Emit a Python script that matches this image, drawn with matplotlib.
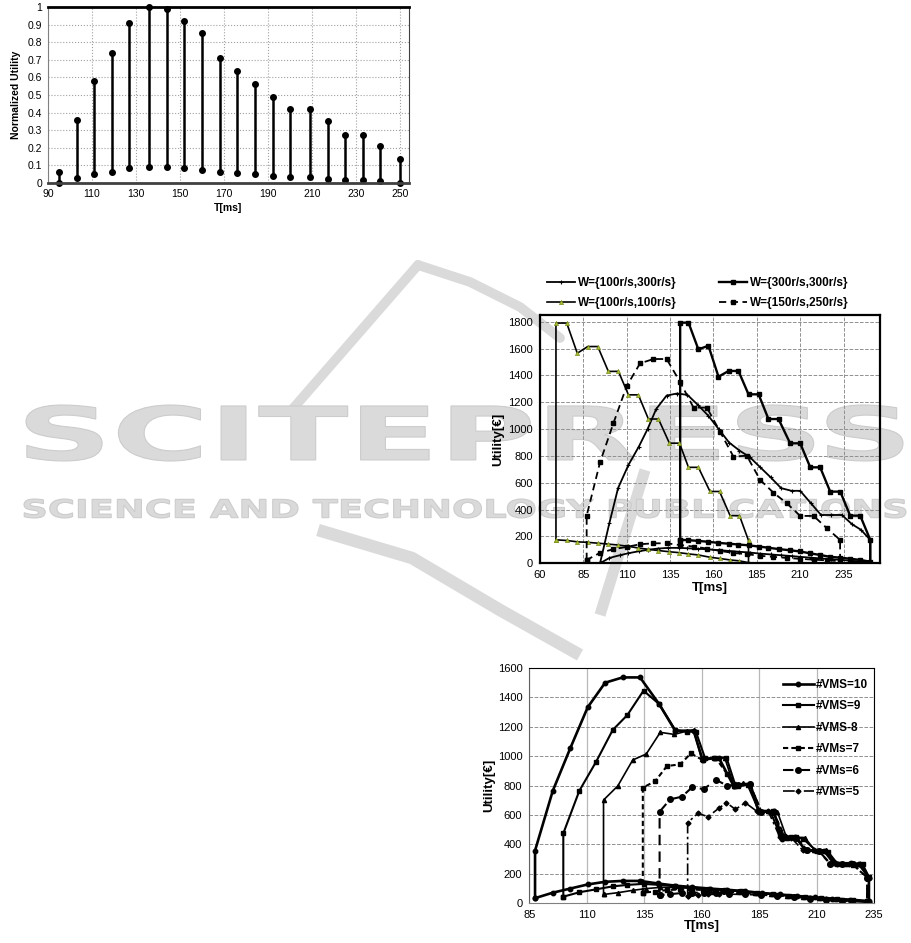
import numpy as np
import matplotlib.pyplot as plt
from matplotlib.textpath import TextPath
from matplotlib.font_manager import FontProperties
from matplotlib.patches import PathPatch
from matplotlib.transforms import Affine2D

plt.rcParams['font.family'] = ['Liberation Sans', 'DejaVu Sans']

# ---- top chart: normalized utility (range per T) ----
t_ms = [95, 103, 111, 119, 127, 136, 144, 152, 160, 168, 176, 184, 192, 200, 209, 217, 225, 233, 241, 250]
u_max = [0.06, 0.36, 0.58, 0.74, 0.91, 1.0, 0.99, 0.92, 0.85, 0.71, 0.635, 0.565, 0.49, 0.42, 0.42,
         0.35, 0.275, 0.275, 0.21, 0.135]
u_min = [0.0, 0.03, 0.05, 0.063, 0.084, 0.091, 0.091, 0.084, 0.076, 0.063, 0.055, 0.049, 0.04, 0.034,
         0.034, 0.025, 0.019, 0.019, 0.013, 0.0]

# ---- middle chart: workloads ----
w100_100_up_x = [69.2, 75.4, 81.5, 87.5, 93.3, 99.4, 105.2, 111, 116.7, 122.5, 128.3, 134.6, 140.4, 145.6,
                 151.3, 158, 163.5, 169.6, 175, 180.2]
w100_100_up_y = [1790, 1790, 1565, 1615, 1615, 1430, 1430, 1255, 1255, 1075, 1075, 895, 895, 715, 715,
                 535, 535, 355, 355, 170]
w100_100_lo_x = w100_100_up_x
w100_100_lo_y = [175, 170, 160, 156, 150, 143, 136, 126, 114, 104, 95, 86, 79, 70, 62, 45, 36, 25, 18, 5]

w300_300_up_x = [140.8, 145.6, 151.3, 157.1, 162.9, 168.7, 174.4, 180.2, 186, 191.7, 197.5, 204.2, 210,
                 215.8, 221.5, 227.3, 233.1, 238.8, 244.6, 250.4]
w300_300_up_y = [1793, 1793, 1594, 1621, 1390, 1433, 1433, 1259, 1259, 1075, 1075, 894, 894, 715, 715,
                 534, 534, 355, 355, 174]
w300_300_lo_x = w300_300_up_x
w300_300_lo_y = [175, 172, 167, 160, 152, 146, 140, 134, 125, 116, 106, 97, 88, 74, 62, 48, 42, 34, 25, 12]

w100_300_up_x = [94.6, 100, 105, 111, 117, 122, 127, 133, 139, 145, 151, 157, 163, 169, 175, 181, 187, 193,
                 199, 205, 210, 216, 222, 228, 234, 240, 245, 250.4]
w100_300_up_y = [0, 300, 560, 733, 870, 1000, 1150, 1250, 1265, 1255, 1180, 1100, 1000, 900, 840, 790,
                 715, 640, 560, 540, 540, 450, 360, 360, 360, 290, 250, 174]
w100_300_lo_x = [94.6, 100, 106, 111, 117, 122, 128, 134, 140, 145, 151, 157, 163, 169, 175, 181, 187,
                 193, 199, 205, 210, 216, 222, 228, 234, 240, 245, 250.4]
w100_300_lo_y = [0, 40, 60, 75, 90, 100, 110, 115, 115, 112, 108, 104, 98, 92, 86, 80, 72, 66, 60, 54,
                 48, 42, 36, 30, 25, 18, 14, 10]

w150_250_up_x = [86.9, 94.6, 102.3, 110, 117.7, 125.4, 133, 140.8, 148.5, 156.2, 163.8, 171.5, 179.2,
                 186.9, 194.6, 202.3, 210, 217.7, 225.4, 233]
w150_250_up_y = [355, 752, 1043, 1321, 1490, 1522, 1522, 1350, 1160, 1160, 981, 795, 802, 621, 526, 447,
                 353, 353, 261, 174]
w150_250_lo_x = w150_250_up_x
w150_250_lo_y = [25, 78, 105, 122, 142, 149, 149, 136, 125, 110, 92, 77, 68, 56, 48, 40, 33, 27, 22, 16]

# ---- bottom chart: number of VMs ----
vm10_up_x = [87.5, 95.2, 102.8, 110.4, 118, 125.6, 133.2, 141.5, 148.5, 156.5, 160.4, 167.4, 174, 181.2,
             184.8, 191.4, 195, 200.8, 205.2, 213.2, 217.5, 224.8, 228.5, 232.8]
vm10_up_y = [358, 763, 1052, 1331, 1498, 1534, 1534, 1353, 1172, 1172, 975, 990, 795, 810, 620, 625, 440,
             450, 360, 358, 272, 272, 265, 175]
vm10_lo_x = [87.5, 95.2, 102.8, 110.4, 118, 125.6, 133.2, 140.8, 148.4, 156, 163.6, 171.2, 178.8, 186.4,
             194, 201.6, 209.2, 216.8, 224.4, 232.8]
vm10_lo_y = [35, 72, 100, 128, 146, 152, 152, 135, 120, 110, 100, 92, 82, 70, 60, 50, 40, 32, 25, 15]

vm9_up_x = [99.8, 106.8, 114.1, 121.3, 127.7, 134.7, 141.5, 148.5, 153.6, 157.5, 161.5, 165.5, 170.8, 174.7,
            180, 185, 190, 194, 199, 204, 210, 215, 219, 226, 230, 232.8]
vm9_up_y = [475, 765, 962, 1177, 1279, 1444, 1353, 1177, 1165, 1165, 985, 985, 990, 800, 805, 625, 620,
            470, 450, 440, 355, 350, 270, 265, 265, 180]
vm9_lo_x = [99.8, 106.8, 114.1, 121.3, 127.7, 134.7, 141.5, 148.5, 156, 163, 170, 177, 184, 191, 198, 205,
            212, 219, 226, 232.8]
vm9_lo_y = [45, 75, 95, 115, 125, 132, 125, 115, 105, 98, 90, 82, 70, 62, 52, 44, 36, 28, 20, 12]

vm8_up_x = [117.3, 123.5, 130, 135.9, 142, 148.1, 153.6, 156.5, 160, 166, 170, 174, 178, 181, 185, 189,
            193, 197, 201, 205, 209, 214, 218, 223, 228, 232.8]
vm8_up_y = [701, 797, 973, 1014, 1161, 1147, 1170, 1177, 980, 985, 990, 800, 815, 810, 630, 630, 620, 445,
            450, 445, 365, 360, 280, 270, 270, 180]
vm8_lo_x = [117.3, 123.5, 130, 135.9, 142, 148.1, 155, 162, 169, 176, 183, 190, 197, 204, 211, 218, 225,
            232.8]
vm8_lo_y = [60, 72, 88, 100, 108, 108, 102, 96, 90, 82, 72, 62, 52, 44, 36, 26, 18, 10]

vm7_up_x = [134.4, 139.8, 144.9, 150.7, 155.3, 160.4, 166, 171, 176, 181, 186, 191, 196, 201, 206, 211,
            216, 221, 226, 232]
vm7_up_y = [785, 830, 932, 944, 1018, 973, 990, 880, 800, 810, 620, 625, 460, 450, 360, 355, 265, 265,
            260, 175]
vm7_lo_x = [134.4, 139.8, 144.9, 150.7, 155.3, 160.4, 166, 172, 179, 186, 193, 200, 207, 214, 221, 232]
vm7_lo_y = [72, 80, 90, 95, 95, 90, 84, 78, 70, 62, 54, 46, 38, 30, 22, 14]

vm6_up_x = [141.7, 146.3, 151.4, 155.8, 160.9, 166.4, 171, 176, 181, 186, 191, 196, 201, 206, 211, 216,
            221, 226, 232]
vm6_up_y = [622, 706, 724, 787, 776, 837, 800, 805, 810, 620, 620, 450, 445, 360, 355, 270, 265, 265, 175]
vm6_lo_x = [141.7, 146.3, 151.4, 155.8, 160.9, 166.4, 172, 179, 186, 193, 200, 207, 214, 221, 232]
vm6_lo_y = [55, 62, 70, 72, 72, 70, 66, 60, 54, 48, 40, 32, 24, 16, 10]

vm5_up_x = [153.9, 158.4, 162.8, 167.4, 170.8, 174.7, 179, 184, 189, 194, 199, 204, 209, 214, 219, 224,
            229, 232.8]
vm5_up_y = [548, 611, 588, 645, 683, 638, 683, 625, 625, 450, 445, 360, 360, 355, 270, 270, 265, 175]
vm5_lo_x = [153.9, 158.4, 162.8, 167.4, 172, 179, 186, 193, 200, 207, 214, 221, 232.8]
vm5_lo_y = [50, 58, 60, 62, 62, 60, 56, 50, 42, 34, 26, 18, 10]


def loop(up_x, up_y, lo_x, lo_y):
    # start at bottom of the vertical, run along the upper curve, come back along the lower one
    return [lo_x[0]] + up_x + lo_x[::-1], [lo_y[0]] + up_y + lo_y[::-1]


W, H = 911, 943
fig = plt.figure(figsize=(W / 100, H / 100), dpi=100)

# watermark behind everything (pixel coordinates of the page)
bg = fig.add_axes([0, 0, 1, 1], zorder=-5)
bg.set_xlim(0, W)
bg.set_ylim(H, 0)
bg.axis('off')


def stamp(s, x0, y0, x1, y1):
    tp = TextPath((0, 0), s, size=100, prop=FontProperties(family='DejaVu Sans', weight='bold'))
    bb = tp.get_extents()
    tr = Affine2D().translate(-bb.x0, -bb.y1).scale((x1 - x0) / bb.width, -(y1 - y0) / bb.height)
    tr = tr.translate(x0, y0)
    bg.add_patch(PathPatch(tr.transform_path(tp), fc='#dadada', ec='#cccccc', lw=0.8, zorder=3))


# rough logo strokes
logo = '#dadada'
bg.plot([418, 290], [265, 412], color=logo, lw=7, solid_capstyle='round')
bg.plot([418, 470, 520, 560], [265, 282, 307, 338], color=logo, lw=7, solid_capstyle='round')
bg.plot([318, 412, 500, 580], [530, 558, 610, 655], color=logo, lw=9, solid_capstyle='butt')
bg.plot([645, 600], [470, 615], color=logo, lw=8, solid_capstyle='butt')

stamp('SCITEPRESS', 26, 405, 903, 461)
stamp('SCIENCE AND TECHNOLOGY PUBLICATIONS', 24, 499, 906, 518)

# ---------------- top chart ----------------
ax1 = fig.add_axes([48 / W, 1 - 183 / H, 361 / W, 176 / H])
ax1.patch.set_alpha(0)
ax1.vlines(t_ms, u_min, u_max, color='black', lw=1.8)
ax1.plot(t_ms, u_max, 'o', color='black', ms=4, clip_on=False)
ax1.plot(t_ms, u_min, 'o', color='black', ms=4, clip_on=False)
ax1.set_xlim(90, 254)
ax1.set_ylim(0, 1)
ax1.set_xticks(range(90, 251, 20))
ax1.set_yticks(np.arange(0, 1.01, 0.1))
ax1.set_yticklabels([f'{v:g}' for v in np.arange(0, 1.01, 0.1)])
ax1.grid(True, ls=':', color='#a0a0a0', lw=0.8)
ax1.set_axisbelow(True)
ax1.tick_params(length=0, labelsize=7.5, pad=4)
ax1.set_xlabel('T[ms]', fontsize=7.5, fontweight='bold', labelpad=3)
ax1.set_ylabel('Normalized Utility', fontsize=7.5, fontweight='bold', labelpad=5)
ax1.spines['top'].set_linewidth(2)
ax1.spines['bottom'].set_linewidth(2)
ax1.spines['bottom'].set_color('#404040')
ax1.spines['left'].set_color('#808080')
ax1.spines['right'].set_color('#404040')

# ---------------- middle chart ----------------
ax2 = fig.add_axes([540 / W, 1 - 563.3 / H, 340 / W, 248.3 / H])
ax2.patch.set_alpha(0)
x, y = loop(w100_300_up_x, w100_300_up_y, w100_300_lo_x, w100_300_lo_y)
l_a, = ax2.plot(x, y, '-', color='black', lw=1.3, marker='+', ms=3, mew=0.8, label='W={100r/s,300r/s}')
x, y = loop(w300_300_up_x, w300_300_up_y, w300_300_lo_x, w300_300_lo_y)
l_b, = ax2.plot(x, y, '-', color='black', lw=1.7, marker='s', ms=2.2, label='W={300r/s,300r/s}')
x, y = loop(w100_100_up_x, w100_100_up_y, w100_100_lo_x, w100_100_lo_y)
l_c, = ax2.plot(x, y, '-', color='black', lw=1.2, marker='^', ms=3, mfc='#a8c030', mec='#7a8a20',
                mew=0.5, label='W={100r/s,100r/s}')
x, y = loop(w150_250_up_x, w150_250_up_y, w150_250_lo_x, w150_250_lo_y)
l_d, = ax2.plot(x, y, '--', color='black', lw=1.3, marker='s', ms=3.5, dashes=(4, 2.5),
                label='W={150r/s,250r/s}')
ax2.set_xlim(60, 256)
ax2.set_ylim(0, 1850)
ax2.set_xticks(range(60, 236, 25))
ax2.set_yticks(range(0, 1801, 200))
ax2.grid(True, ls='--', color='#909090', lw=0.7)
ax2.set_axisbelow(True)
ax2.tick_params(length=0, labelsize=8, pad=5)
ax2.set_xlabel('T[ms]', fontsize=9.5, fontweight='bold', labelpad=1)
ax2.set_ylabel('Utility[€]', fontsize=9.5, fontweight='bold', labelpad=3)
for s in ax2.spines.values():
    s.set_linewidth(1.6)
fig.legend([l_a, l_c, l_b, l_d], [h.get_label() for h in [l_a, l_c, l_b, l_d]], ncol=2,
           loc='upper left', bbox_to_anchor=(547 / W, 1 - 277 / H), frameon=False,
           prop={'size': 8.5, 'weight': 'bold'}, handlelength=2.4, handletextpad=0.2,
           columnspacing=3.6, labelspacing=0.65, borderpad=0, borderaxespad=0)

# ---------------- bottom chart ----------------
ax3 = fig.add_axes([529.3 / W, 1 - 903.3 / H, 344.7 / W, 235.6 / H])
ax3.patch.set_alpha(0)
x, y = loop(vm10_up_x, vm10_up_y, vm10_lo_x, vm10_lo_y)
ax3.plot(x, y, '-', color='black', lw=1.9, marker='o', ms=3.2, label='#VMS=10')
x, y = loop(vm9_up_x, vm9_up_y, vm9_lo_x, vm9_lo_y)
ax3.plot(x, y, '-', color='black', lw=1.5, marker='s', ms=2.3, label='#VMS=9')
x, y = loop(vm8_up_x, vm8_up_y, vm8_lo_x, vm8_lo_y)
ax3.plot(x, y, '-', color='black', lw=1.2, marker='^', ms=3, label='#VMS-8')
x, y = loop(vm7_up_x, vm7_up_y, vm7_lo_x, vm7_lo_y)
ax3.plot(x, y, color='black', lw=1.5, marker='s', ms=3.5, dashes=(2.5, 1.5), label='#VMs=7')
x, y = loop(vm6_up_x, vm6_up_y, vm6_lo_x, vm6_lo_y)
ax3.plot(x, y, color='black', lw=1.5, marker='o', ms=4, dashes=(5, 3), label='#VMs=6')
x, y = loop(vm5_up_x, vm5_up_y, vm5_lo_x, vm5_lo_y)
ax3.plot(x, y, color='black', lw=1.2, marker='D', ms=2.5, dashes=(7, 2, 1.5, 2), label='#VMs=5')
ax3.set_xlim(85, 235)
ax3.set_ylim(0, 1600)
ax3.set_xticks(range(85, 236, 25))
ax3.set_yticks(range(0, 1601, 200))
ax3.xaxis.grid(True, ls='-', color='#b8b8b8', lw=0.9)
ax3.yaxis.grid(True, ls='--', color='#909090', lw=0.7)
ax3.set_axisbelow(True)
ax3.tick_params(length=0, labelsize=8, pad=5)
ax3.set_xlabel('T[ms]', fontsize=9.5, fontweight='bold', labelpad=0)
ax3.set_ylabel('Utility[€]', fontsize=9.5, fontweight='bold', labelpad=2)
ax3.spines['left'].set_color('#606060')
ax3.spines['bottom'].set_color('#808080')
ax3.legend(loc='upper left', bbox_to_anchor=(783 / W, 1 - 679 / H), bbox_transform=fig.transFigure,
           frameon=False, prop={'size': 8.5, 'weight': 'bold'}, handlelength=2.6, handletextpad=0.15,
           labelspacing=0.8, borderpad=0, borderaxespad=0)

fig.savefig('out.png', dpi=100)
